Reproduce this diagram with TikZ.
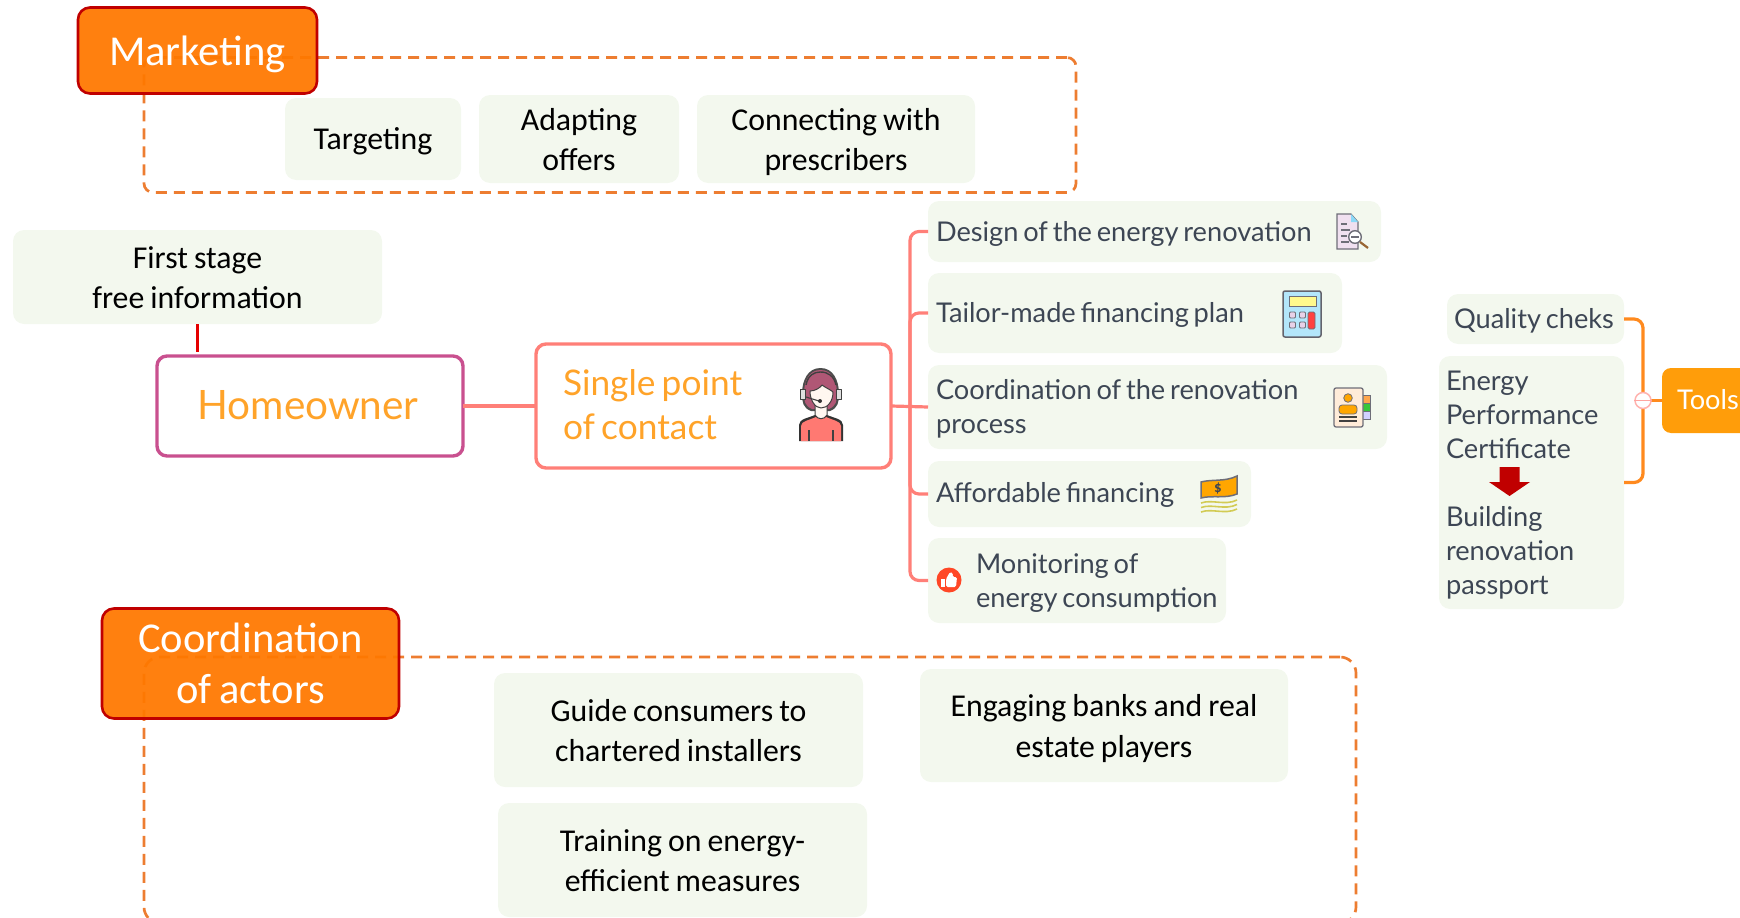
\documentclass[tikz,border=0pt]{standalone}
\usepackage{fontspec}
\setmainfont{Carlito}
\newfontfamily\mapfont{Lato}
\hyphenpenalty=10000
\definecolor{boxfill}{HTML}{F3F8EE}
\definecolor{hotorange}{HTML}{FF7800}
\definecolor{darkred}{HTML}{C00000}
\definecolor{dashor}{HTML}{ED7D31}
\definecolor{maptext}{HTML}{3D4654}
\definecolor{maporange}{HTML}{FFA329}
\definecolor{coral}{HTML}{FF7F78}
\definecolor{pinkline}{HTML}{C9508F}
\definecolor{toolfill}{HTML}{FF9D0A}
\definecolor{toolline}{HTML}{FF8A1E}
\definecolor{icongrey}{HTML}{6E6E78}
\tikzset{
  basebox/.style={anchor=north west,inner xsep=0pt,inner ysep=0pt,outer sep=0pt},
  softbox/.style={basebox,fill=boxfill,rounded corners=11pt},
  blacktext/.style={softbox,align=center,font=\fontsize{31.8}{40}\selectfont,text=black},
  maptxt/.style={softbox,align=left,font=\mapfont\fontsize{27.2}{34}\selectfont,text=maptext},
  headbox/.style={basebox,draw=darkred,line width=2.6pt,fill=hotorange,fill opacity=0.94,text opacity=1,rounded corners=12pt,align=center,text=white},
  frame/.style={basebox,draw=dashor,line width=2.7pt,dash pattern=on 11pt off 7pt,rounded corners=#1},
  outlinebox/.style={basebox,fill=white,rounded corners=10pt,line width=3.4pt,text=maporange,align=left},
  link/.style={coral,line width=3.2pt,rounded corners=9pt},
  toollink/.style={toolline,line width=3.2pt,rounded corners=9pt},
  ic/.style={draw=icongrey,line width=1.1pt},
}
\newcommand\tightc{\spaceskip=.84\fontdimen2\font\relax}
\newcommand\tightm{\spaceskip=.69\fontdimen2\font\relax}
% name, style, x1, y1, x2, y2, first baseline, left pad, text
\newcommand\bx[9]{%
  \pgfmathsetmacro\bxw{#5-#3-2*#8}%
  \pgfmathsetmacro\bxh{#7-#4}%
  \pgfmathsetmacro\bxd{#6-#7}%
  \node[#2,text width=\bxw pt,inner xsep=#8pt,text height=\bxh pt,text depth=\bxd pt] (#1) at (#3,#4) {#9};%
}
\begin{document}
\begin{tikzpicture}[x=1pt,y=-1pt]
\useasboundingbox (0,0) rectangle (1740,918);
\clip (0,0) rectangle (1740,918);
% dashed frames
\node[frame=9pt,minimum width=932pt,minimum height=135pt] (mframe) at (144,57.5) {};
\node[frame=16pt,minimum width=1212pt,minimum height=266pt] (cframe) at (144,657) {};
% heads
\bx{marketing}{headbox,font=\fontsize{42.6}{50}\selectfont}{78}{7.5}{317}{93.5}{65}{0}{Marketing}
\bx{coordination}{headbox,font=\fontsize{42.5}{51}\selectfont}{102}{608.5}{399}{718.5}{652}{0}{\tightc Coordination\\of actors}
% marketing items
\bx{targeting}{blacktext}{285}{98}{461}{180}{149}{0}{Targeting}
\bx{adapting}{blacktext}{479}{95}{679}{183}{130}{0}{Adapting\\offers}
\bx{connecting}{blacktext}{697}{95}{975}{183}{130}{0}{\tightc Connecting with\\prescribers}
\bx{first}{blacktext}{13}{230}{382}{324}{268}{0}{\tightc First stage\\free information}
% actors items
\bx{guide}{blacktext}{494}{673}{863}{787}{721}{0}{\tightc Guide consumers to\\chartered installers}
\bx{engaging}{blacktext,font=\fontsize{31.8}{41.5}\selectfont}{920}{669}{1288}{782}{716}{0}{\tightc Engaging banks and real\\estate players}
\bx{training}{blacktext}{498}{803}{867}{917}{851}{0}{\tightc Training on energy-\\efficient measures}
% homeowner and contact
\bx{home}{outlinebox,draw=pinkline,align=center,font=\mapfont\fontsize{40.5}{44}\selectfont}{157}{356}{463}{456}{419}{0}{\hspace*{-4pt}Homeowner}
\bx{spoc}{outlinebox,draw=coral,font=\mapfont\fontsize{35.3}{44.5}\selectfont}{536}{344}{891}{468}{395}{27}{\tightm Single point\\of contact}
% branches
\bx{design}{maptxt}{928}{201}{1381}{262}{241}{8}{\tightm Design of the energy renovation}
\bx{tailor}{maptxt}{928}{273}{1342}{353}{322}{8}{\tightm Tailor-made financing plan}
\bx{coordproc}{maptxt}{928}{365}{1387}{449}{399}{8}{\tightm Coordination of the renovation\\process}
\bx{afford}{maptxt}{928}{461}{1251}{527}{502}{8}{\tightm Affordable financing}
\bx{monitor}{maptxt}{928}{538}{1226}{623}{573}{2}{\tightm\hspace*{46pt}Monitoring of\\\hspace*{46pt}energy consumption}
\bx{quality}{maptxt}{1447}{294}{1624}{344}{328}{1}{\tightm\hspace*{6pt}Quality cheks}
\bx{epc}{maptxt}{1439}{356}{1624}{609}{390}{7}{Energy\\Performance\\Certificate\\[34pt]Building\\renovation\\passport}
\bx{tools}{basebox,fill=toolfill,rounded corners=9pt,text=white,align=left,font=\mapfont\fontsize{27.2}{30}\selectfont}{1662}{368}{1770}{433}{409}{15}{Tools}
% connectors
\coordinate (homeup) at (197.5,352);
\draw[red!90!black,line width=2.4pt] (first.south) -- (homeup);
\draw[coral,line width=3.2pt] (home.east) -- (spoc.west);
\coordinate (trunk) at (910,406);
\draw[coral,line width=3.2pt] (spoc.east) -- (coordproc.west);
\draw[link] (trunk) |- (design.west);
\draw[link] (trunk) |- (tailor.west);
\draw[link] (trunk) |- (afford.west);
\draw[link] (trunk) |- (monitor.west);
\coordinate (bracket) at (1643,400.5);
\draw[toollink] (quality.east) -| (bracket) |- (epc.east);
\draw[toolline,line width=3.2pt] (tools.west) -- (bracket);
\node[circle,draw=coral!60!white,fill=white,line width=1.5pt,minimum size=16pt,inner sep=0pt] (toggle) at (bracket) {};
\draw[coral!70!white,line width=1.3pt] (toggle.west) -- (toggle.east);
% red arrow
\fill[darkred] (1499.5,467) -- (1519.5,467) -- (1519.5,482) -- (1530,482) -- (1509.5,496) -- (1489,482) -- (1499.5,482) -- cycle;
% person icon
\begin{scope}[line join=round]
\fill[darkgray!80!black] (799,441) -- (799,425) .. controls (799,419) and (808,418) .. (815,415) -- (827,415) .. controls (834,418) and (843,419) .. (843,425) -- (843,441) -- cycle;
\fill[coral!95!red] (801,441) -- (801,426) .. controls (801,421) and (810,420) .. (816,417) -- (826,417) .. controls (832,420) and (841,421) .. (841,426) -- (841,441) -- cycle;
\draw[darkgray,line width=1.1pt] (809,430) -- (809,441) (833,430) -- (833,441);
\fill[fill=black!70!white] (820.5,368) .. controls (808,368) and (802,380) .. (802,394) .. controls (802,402) and (803,408) .. (811,411) -- (830,411) .. controls (838,408) and (839,402) .. (839,394) .. controls (839,380) and (833,368) .. (820.5,368) -- cycle;
\fill[fill=purple!55!gray!85!white] (820.5,370) .. controls (809,370) and (804,381) .. (804,394) .. controls (804,401) and (805,406) .. (812,409) -- (829,409) .. controls (836,406) and (837,401) .. (837,394) .. controls (837,381) and (832,370) .. (820.5,370) -- cycle;
\filldraw[fill=orange!6!white,draw=darkgray,line width=1pt] (815,405) -- (815,415) .. controls (818,420) and (824,420) .. (827,415) -- (827,405) -- cycle;
\filldraw[fill=orange!6!white,draw=darkgray,line width=1pt] (810,391) .. controls (815,391) and (820,388) .. (822,385) .. controls (826,388) and (831,390) .. (833,392) .. controls (833,402) and (827,408) .. (821,408) .. controls (815,408) and (810,400) .. (810,391) -- cycle;
\draw[darkgray,line width=1.4pt] (806,385) .. controls (808,375) and (814,372) .. (820.5,372) .. controls (828,372) and (834,376) .. (836,385);
\filldraw[fill=gray!25,draw=darkgray,line width=1pt] (800,389) rectangle (805,399);
\filldraw[fill=gray!25,draw=darkgray,line width=1pt] (836,389) rectangle (841,399);
\draw[darkgray,line width=1.1pt] (806,397) -- (819,401);
\fill[black!80] (820,401) circle (2pt);
\end{scope}
% document icon
\filldraw[fill=violet!12!white,ic] (1337,214) -- (1351,214) -- (1358,222) -- (1358,249) -- (1337,249) -- cycle;
\fill[cyan!45!white] (1351,214) -- (1358,222) -- (1351,222) -- cycle;
\draw[icongrey,line width=1.1pt] (1341,224) -- (1347,224) (1341,230) -- (1350,230) (1341,236) -- (1347,236) (1341,242) -- (1349,242);
\filldraw[fill=white,draw=icongrey,line width=1.4pt] (1355,237) circle (6.3pt);
\draw[icongrey,line width=1.2pt] (1351,237) -- (1359,237);
\draw[brown!80!black,line width=2.2pt] (1360,242) -- (1368,248);
% calculator icon
\filldraw[fill=cyan!30!white,draw=icongrey!90!black,line width=1.5pt,rounded corners=2pt] (1283,291) rectangle (1321,337);
\filldraw[fill=yellow!45!white,draw=icongrey,line width=1pt] (1289,296) rectangle (1316,306);
\foreach \cx in {1289.5,1299.5}\foreach \cy in {312,322}
  \filldraw[fill=violet!18!white,draw=icongrey,line width=.9pt,rounded corners=1pt] (\cx,\cy) rectangle ++(6,6);
\filldraw[fill=red!75!white,draw=icongrey,line width=.9pt,rounded corners=1.5pt] (1308,312) rectangle (1315,329);
% contact card icon
\filldraw[fill=orange!70!white,draw=icongrey,line width=.8pt] (1362,395) rectangle (1370,403);
\filldraw[fill=green!55!gray,draw=icongrey,line width=.8pt] (1362,403) rectangle (1370,411);
\filldraw[fill=blue!18!white,draw=icongrey,line width=.8pt] (1362,411) rectangle (1370,419);
\filldraw[fill=orange!15!white,draw=icongrey,line width=1.3pt,rounded corners=2pt] (1334,388) rectangle (1363,427);
\filldraw[fill=orange!70!yellow,draw=icongrey,line width=.8pt] (1348,398) circle (4.3pt);
\filldraw[fill=orange!70!yellow,draw=icongrey,line width=.8pt,rounded corners=3pt] (1339,414) -- (1339,405) -- (1357,405) -- (1357,414) -- cycle;
\draw[darkgray,line width=1.3pt] (1339,417) -- (1357,417) (1339,421) -- (1357,421);
% money icon
\filldraw[fill=orange!70!yellow,draw=icongrey,line width=1.5pt] (1201,482) .. controls (1212,479) and (1225,482) .. (1237,476) -- (1237,494) .. controls (1225,499) and (1212,495) .. (1201,498) -- cycle;
\node[font=\fontsize{15}{15}\selectfont\bfseries,text=maptext,inner sep=0pt] (dollar) at (1218,488) {\$};
\foreach \wy in {503,507.5,512}
  \draw[yellow!60!gray,line width=1.6pt] (1201,\wy) .. controls (1212,\wy-4) and (1225,\wy+3) .. (1237,\wy-3);
% thumb icon
\fill[red!70!orange!85!white] (949,580) circle (12.5pt);
\fill[white] (941,579) rectangle (944.5,587);
\fill[white,rounded corners=1.5pt] (946,579) -- (950,572) -- (953,573) -- (952.5,577) -- (957,577) -- (956,587) -- (946,587) -- cycle;
\end{tikzpicture}
\end{document}
